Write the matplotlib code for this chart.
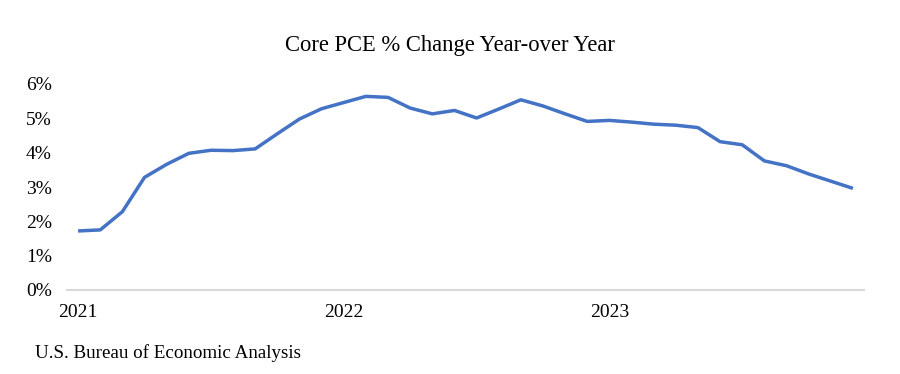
import matplotlib.pyplot as plt
from matplotlib.ticker import FuncFormatter

# Core PCE year-over-year % change, monthly Jan 2021 - Dec 2023
months = list(range(36))
core_pce = [1.72, 1.75, 2.28, 3.28, 3.66, 3.98, 4.07, 4.06, 4.11, 4.55, 4.98, 5.28,
            5.46, 5.64, 5.61, 5.30, 5.13, 5.23, 5.01, 5.27, 5.54, 5.36, 5.13, 4.91,
            4.94, 4.89, 4.83, 4.80, 4.73, 4.32, 4.23, 3.76, 3.62, 3.38, 3.17, 2.96]
year_ticks = [0, 12, 24]
year_labels = ["2021", "2022", "2023"]

plt.rcParams['font.family'] = ['Liberation Serif', 'DejaVu Serif']

fig = plt.figure(figsize=(9, 3.74), dpi=100)
ax = fig.add_axes([67/900, (374-290)/374, (864-67)/900, 206/374])

ax.plot(months, core_pce, color="#4472C4", linewidth=2.5, solid_capstyle="butt")

ax.set_xlim(-0.5, 35.5)
ax.set_ylim(0, 6)
ax.set_yticks(range(7))
ax.yaxis.set_major_formatter(FuncFormatter(lambda v, p: f"{int(v)}%"))
ax.set_xticks(year_ticks)
ax.set_xticklabels(year_labels)

for s in ["top", "right", "left"]:
    ax.spines[s].set_visible(False)
ax.spines["bottom"].set_color("#D9D9D9")
ax.spines["bottom"].set_linewidth(1.5)
ax.tick_params(axis="both", length=0, labelsize=14, colors="black")
ax.tick_params(axis="y", pad=11)
ax.tick_params(axis="x", pad=10)

# title and source note
fig.text(0.5, 1 - 46/374, "Core PCE % Change Year-over Year",
         ha="center", va="center", fontsize=16.3)
fig.text(35/900, 1 - 353/374, "U.S. Bureau of Economic Analysis",
         ha="left", va="center", fontsize=13.7)

fig.savefig("out.png", dpi=100, facecolor="white")
